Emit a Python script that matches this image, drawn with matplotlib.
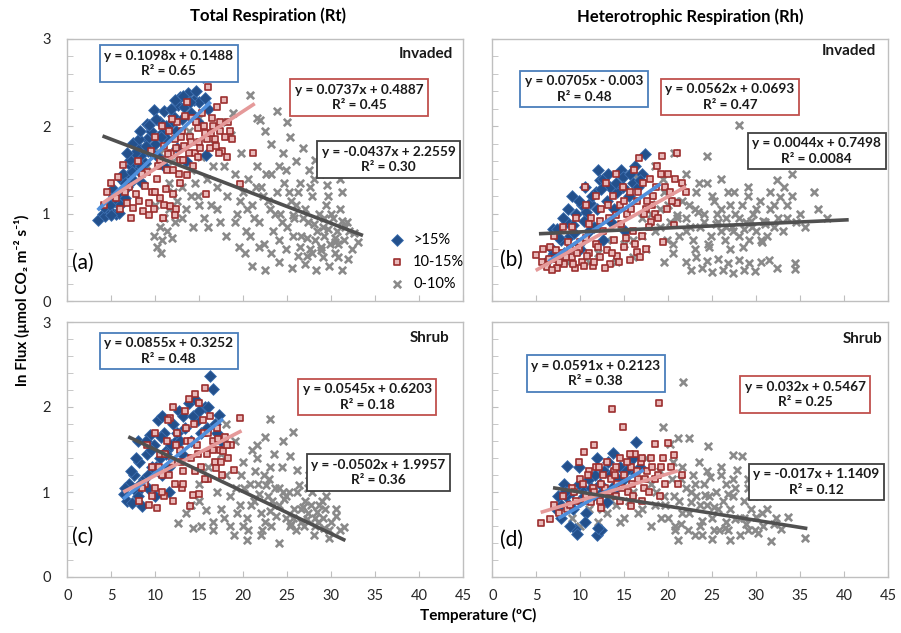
import matplotlib
matplotlib.use("Agg")
import matplotlib.pyplot as plt
from matplotlib.ticker import MultipleLocator

plt.rcParams['font.family'] = ['Lato', 'DejaVu Sans']

# ---- data (temperature degC, ln flux) ----
# (a) Total respiration, invaded
a_hi_x = [3.5, 4.0, 4.3, 4.6, 5.0, 5.5, 5.9, 4.8, 5.3, 5.6, 6.0, 6.2, 6.5, 6.8, 7.0, 7.2, 7.5, 7.8, 8.0, 8.2,
          8.5, 8.8, 9.0, 9.2, 9.5, 9.8, 10.0, 10.3, 10.5, 10.8, 11.0, 11.3, 11.6, 12.0, 12.3, 12.6, 13.0, 13.3,
          13.7, 14.0, 14.4, 14.8, 15.0, 15.4, 15.6, 15.8, 16.0, 13.5, 12.5, 11.0, 8.5, 6.0, 7.5, 9.0, 12.8,
          4.2, 4.9, 5.2, 5.7, 6.3, 6.6, 7.1, 7.4, 7.7, 8.1, 8.4, 8.9, 9.3, 9.6, 10.1, 10.6, 11.2, 11.8, 12.2,
          13.1, 13.9, 14.6, 5.0, 6.8, 8.3]
a_hi_y = [0.93, 1.00, 0.97, 1.05, 1.02, 1.00, 1.01, 1.15, 1.20, 1.12, 1.25, 1.38, 1.18, 1.30, 1.45, 1.55, 1.38,
          1.62, 1.50, 1.75, 1.68, 1.58, 1.85, 1.72, 1.95, 2.19, 1.80, 1.65, 2.05, 1.92, 2.17, 1.85, 2.02, 2.12,
          1.95, 2.25, 2.08, 2.22, 2.38, 2.15, 2.30, 2.05, 2.28, 2.56, 2.33, 1.67, 2.20, 1.60, 1.75, 1.55, 1.35,
          1.10, 1.81, 2.03, 2.34,
          1.08, 1.10, 1.28, 1.22, 1.45, 1.35, 1.62, 1.48, 1.70, 1.85, 1.55, 1.78, 2.02, 1.70, 2.08, 1.88, 2.00,
          2.20, 2.30, 2.35, 2.28, 2.40, 0.98, 1.70, 1.95]
a_mid_x = [4.2, 4.5, 5.0, 5.5, 5.8, 6.3, 6.0, 6.8, 7.0, 7.5, 7.8, 8.2, 8.6, 8.8, 9.0, 9.3, 9.6, 9.8, 10.2,
           10.5, 10.9, 11.2, 11.7, 12.0, 12.4, 12.8, 9.5, 10.0, 10.5, 11.0, 11.5, 11.8, 12.2, 12.5, 12.8, 13.0,
           13.3, 13.6, 13.9, 14.2, 14.5, 14.8, 15.0, 15.3, 15.6, 15.8, 16.0, 16.2, 16.5, 16.8, 17.0, 17.3, 17.6,
           18.1, 18.3, 18.7, 13.6, 14.3, 19.6, 21.1, 16.6, 17.8, 11.3, 8.0, 12.7,
           10.3, 10.8, 11.4, 11.9, 12.3, 12.9, 13.4, 13.8, 14.1, 14.6, 15.1, 15.5, 15.9, 16.4, 16.9, 17.4, 17.9,
           18.5, 12.0, 13.2, 14.9, 16.3, 17.2, 11.0, 9.3, 7.2, 6.5, 8.5, 10.0, 12.2]
a_mid_y = [1.10, 1.25, 1.35, 1.18, 1.42, 1.56, 1.05, 1.12, 1.30, 1.06, 1.22, 1.15, 1.03, 1.32, 1.48, 1.12,
           1.25, 1.05, 1.40, 1.18, 0.95, 1.28, 1.09, 1.22, 1.05, 1.35, 1.72, 1.88, 1.62, 1.78, 1.95, 1.70, 1.85,
           2.05, 1.62, 1.95, 1.78, 2.28, 1.88, 2.10, 1.70, 1.98, 1.82, 2.15, 1.92, 1.23, 2.45, 1.75, 2.00, 1.85,
           2.22, 1.95, 1.72, 1.65, 2.05, 1.85, 1.44, 1.55, 1.34, 1.69, 2.55, 2.30, 1.50, 1.60, 1.45,
           1.55, 2.00, 1.68, 2.08, 1.75, 1.88, 2.12, 1.70, 1.82, 2.05, 1.75, 2.00, 1.85, 2.10, 1.78, 2.05, 1.88,
           1.95, 1.50, 1.62, 1.65, 1.92, 1.70, 1.10, 0.98, 0.95, 1.25, 1.45, 1.25, 0.98]
a_lo_x = [9.8, 10.2, 10.5, 10.8, 11.0, 11.3, 11.6, 10.0, 11.9, 12.2, 12.5, 10.6,
          13.0, 13.5, 14.0, 14.3, 14.8, 15.2, 15.5, 15.9, 16.3, 16.7, 17.0, 17.4, 17.8, 18.2, 18.6, 19.0, 19.3,
          19.7, 20.0, 20.3, 13.6, 17.5, 18.8,
          20.8, 21.5, 21.9, 22.5, 23.8, 23.2, 24.5, 25.3, 25.0, 26.0, 26.8, 27.5, 28.2, 28.7, 29.5, 30.2, 31.0, 24.0,
          20.5, 21.0, 21.4, 21.8, 22.2, 22.6, 23.0, 23.4, 23.8, 24.2, 24.6, 25.0, 25.4, 25.8, 26.2, 26.6, 27.0,
          27.4, 27.8, 28.2, 28.6, 29.0, 29.4, 29.8, 30.2, 30.6, 31.0, 31.4, 31.8, 32.3, 32.6, 33.0,
          25.6, 26.4, 27.2, 28.0, 28.8, 29.6, 30.4, 31.2, 27.8, 29.2, 30.8,
          20.2, 21.0, 21.8, 22.5, 23.2, 24.0, 24.8, 25.5, 26.2, 27.0, 27.6, 28.3, 29.0, 29.7, 30.4, 31.2, 31.9,
          9.0, 10.5, 12.0, 13.8, 15.0, 16.5, 14.5, 11.5,
          19.0, 19.6, 20.4, 21.2, 22.0, 22.8, 23.6, 24.4, 25.2, 26.0, 26.8, 27.6, 28.4, 29.2, 30.0, 30.8, 31.6,
          20.8, 22.4, 24.0, 25.6, 27.2, 28.8, 30.4, 32.0, 21.6, 23.2, 24.8, 26.4, 28.0, 29.6, 31.2, 16.0, 17.0,
          18.0, 15.0, 14.0, 13.0, 12.0, 19.5]
a_lo_y = [0.75, 0.62, 0.85, 0.70, 0.95, 0.80, 1.05, 1.10, 0.72, 0.90, 1.15, 0.55,
          1.30, 1.05, 1.50, 0.85, 1.20, 1.65, 0.95, 1.40, 1.10, 1.80, 1.30, 0.90, 1.55, 1.20, 1.90, 1.45, 1.00,
          1.70, 1.25, 0.80, 2.57, 2.05, 2.15,
          2.36, 2.10, 2.07, 1.95, 2.18, 1.80, 1.70, 1.88, 2.05, 1.60, 1.75, 1.50, 1.62, 1.45, 1.33, 1.52, 1.40, 1.55,
          1.40, 1.10, 1.30, 0.90, 1.20, 1.45, 1.05, 0.80, 1.25, 1.00, 1.35, 0.85, 1.15, 0.95, 1.25, 0.75, 1.05,
          0.90, 1.20, 0.70, 1.00, 0.85, 1.10, 0.65, 0.95, 0.80, 1.05, 0.70, 0.90, 0.60, 0.78, 0.68,
          0.98, 0.62, 0.72, 0.88, 0.58, 0.82, 0.68, 0.92, 0.55, 0.75, 0.50,
          0.55, 0.40, 0.62, 0.35, 0.55, 0.45, 0.60, 0.38, 0.52, 0.42, 0.60, 0.35, 0.50, 0.40, 0.55, 0.35, 0.48,
          1.55, 1.70, 1.60, 1.95, 2.10, 1.55, 1.35, 1.35,
          0.90, 1.15, 1.05, 0.95, 1.30, 1.15, 1.00, 0.90, 1.25, 1.10, 0.95, 1.30, 0.80, 0.95, 1.00, 0.65, 0.85,
          0.75, 0.65, 0.70, 0.75, 0.52, 0.62, 0.72, 0.80, 1.55, 1.45, 1.50, 1.35, 1.40, 1.20, 1.25, 0.85, 1.05,
          0.75, 1.10, 1.20, 0.95, 1.25, 0.62]

# (b) Heterotrophic respiration, invaded
b_hi_x = [6.4, 6.8, 6.9, 7.3, 7.8, 8.2, 8.5, 8.8, 9.2, 9.5, 9.8, 10.2, 10.7, 11.1, 11.5, 11.8, 12.2, 12.6,
          12.6, 13.0, 13.4, 13.8, 14.2, 14.6, 14.9, 15.1, 15.5, 16.0, 16.5, 17.0, 17.4, 11.0, 9.0, 13.5, 10.5,
          7.0, 7.6, 8.0, 8.6, 9.3, 9.9, 10.4, 11.3, 11.9, 12.4, 13.2, 14.0, 14.8, 15.6, 16.2, 16.8, 12.0, 10.0]
b_hi_y = [0.48, 0.60, 0.83, 0.82, 0.70, 0.55, 0.90, 0.74, 0.87, 1.00, 0.65, 1.10, 1.02, 1.12, 0.85, 1.25,
          1.38, 1.40, 0.70, 1.15, 1.31, 1.05, 1.25, 1.50, 1.42, 0.80, 1.20, 1.35, 1.30, 1.45, 1.68, 0.80, 1.20,
          0.90, 1.30,
          0.55, 0.72, 0.95, 1.05, 0.78, 1.15, 0.92, 1.20, 1.05, 1.28, 1.45, 1.35, 1.30, 1.45, 1.55, 1.38, 1.50, 0.60]
b_mid_x = [5.0, 5.6, 6.2, 6.6, 7.0, 7.4, 7.8, 8.2, 8.6, 9.0, 9.4, 9.8, 10.2, 10.6, 11.0, 11.4, 11.8, 12.2,
           12.6, 13.0, 13.4, 13.8, 14.2, 14.6, 15.0, 15.6, 16.4, 17.0, 17.5, 18.0, 19.4, 20.6, 21.0, 10.7, 10.5,
           11.2, 11.8, 12.4, 12.9, 13.3, 13.7, 14.1, 14.5, 14.9, 15.3, 15.7, 16.1, 16.4, 16.7, 17.1, 17.5, 17.9,
           18.3, 18.7, 19.3, 19.6, 20.0, 20.4, 21.0, 21.5, 22.0, 8.0, 9.5, 7.0, 16.0, 18.5,
           5.8, 6.4, 7.2, 7.6, 8.4, 8.8, 9.2, 9.6, 10.0, 10.4, 10.8, 11.6, 12.0, 12.8, 13.6, 14.4, 15.2, 16.2,
           16.8, 17.2, 17.8, 18.2, 18.8, 19.8, 20.2, 12.2, 13.2, 14.0, 15.0, 15.8, 16.6, 17.6, 18.6, 19.2, 20.8,
           6.8, 9.0, 11.0]
b_mid_y = [0.53, 0.45, 0.39, 0.62, 0.48, 0.38, 0.55, 0.42, 0.68, 0.50, 0.38, 0.60, 0.45, 0.72, 0.55, 0.40,
           0.65, 0.50, 0.80, 0.58, 0.42, 0.70, 0.52, 0.88, 0.62, 0.47, 0.56, 0.75, 0.60, 0.90, 0.68, 0.87, 1.12,
           1.10, 1.31, 0.95, 1.20, 1.05, 1.35, 0.95, 1.20, 1.45, 1.10, 1.30, 1.00, 1.25, 1.50, 1.15, 1.64, 1.35,
           1.05, 1.40, 1.20, 1.55, 1.66, 1.30, 1.45, 1.15, 1.70, 1.35, 1.25, 0.85, 0.95, 0.75, 0.80, 1.00,
           0.60, 0.48, 0.58, 0.45, 0.50, 0.60, 0.42, 0.55, 0.68, 0.40, 0.52, 0.45, 0.62, 0.38, 0.55, 0.45, 0.72,
           0.65, 0.50, 1.00, 0.85, 1.10, 0.95, 1.05, 1.25, 0.92, 1.10, 0.98, 1.15, 1.05, 1.25, 1.15, 1.30, 1.45,
           1.40, 0.35, 0.85, 0.88]
b_lo_x = [12.0, 13.0, 14.0, 15.0, 16.0, 17.0, 17.5, 18.0, 18.5, 19.0, 19.4, 19.8, 20.2, 20.6, 20.8, 21.2,
          21.6, 22.0, 22.4, 22.8, 23.2, 23.6, 24.0, 24.4, 24.4, 24.8, 25.2, 25.6, 26.0, 26.4, 26.8, 27.2, 27.6,
          28.0, 28.0, 28.4, 28.8, 29.2, 29.6, 30.0, 30.4, 30.8, 31.2, 31.6, 32.0, 32.3, 32.7, 33.1, 33.5, 34.0,
          34.5, 35.0, 36.5, 22.0, 26.0, 29.0, 23.0, 27.0,
          21.0, 23.4, 25.4, 27.4, 29.4, 31.0, 24.6, 26.6, 28.6, 30.6,
          22.0, 22.6, 23.2, 23.8, 24.4, 25.0, 25.6, 26.2, 26.8, 27.4, 28.0, 28.6, 29.2, 29.8, 30.5, 31.4, 32.3,
          34.4, 34.4, 19.5, 20.5, 10.0, 11.0, 8.5, 16.5, 18.5, 15.5,
          18.0, 19.0, 20.0, 21.0, 22.0, 23.0, 24.0, 25.0, 26.0, 27.0, 28.0, 29.0, 30.0, 31.0, 32.0, 33.0, 34.0,
          19.5, 21.5, 23.5, 25.5, 27.5, 29.5, 31.5, 33.5, 20.5, 22.5, 24.5, 26.5, 28.5, 30.5, 32.5, 35.5, 37.0,
          38.0, 17.0, 16.0, 14.5]
b_lo_y = [0.55, 0.70, 0.45, 0.65, 0.50, 0.95, 0.60, 1.20, 0.80, 1.05, 1.40, 0.70, 0.90, 1.70, 1.15, 0.75,
          1.30, 0.95, 1.10, 0.70, 1.25, 0.85, 1.00, 1.66, 1.35, 0.75, 1.15, 0.90, 1.05, 0.70, 1.25, 0.85, 1.00,
          2.01, 0.75, 1.10, 0.90, 0.70, 1.00, 0.80, 1.15, 0.92, 0.75, 1.05, 0.85, 1.38, 1.19, 1.31, 0.95, 1.45,
          0.90, 1.00, 1.25, 1.45, 1.40, 1.30, 0.60, 0.60,
          0.98, 1.02, 0.88, 0.80, 0.92, 0.88, 0.62, 0.95, 0.82, 0.68,
          0.45, 0.35, 0.50, 0.38, 0.46, 0.33, 0.48, 0.36, 0.44, 0.32, 0.47, 0.36, 0.43, 0.34, 0.45, 0.47, 0.38,
          0.43, 0.37, 0.45, 0.55, 0.65, 0.45, 0.45, 1.45, 1.55, 1.25,
          1.00, 0.85, 1.10, 0.95, 0.80, 1.05, 0.90, 1.20, 0.80, 1.10, 0.95, 1.20, 1.05, 0.90, 1.10, 0.80, 1.20,
          1.25, 1.15, 1.35, 1.00, 1.25, 0.85, 1.25, 1.10, 0.65, 0.85, 0.65, 0.85, 0.62, 0.70, 0.95, 0.85, 1.05,
          0.95, 0.75, 0.70, 0.85]

# (c) Total respiration, shrub
c_hi_x = [6.4, 6.8, 7.0, 7.3, 7.6, 7.9, 8.2, 8.5, 8.7, 9.0, 9.2, 9.4, 9.6, 9.9, 10.0, 10.3, 10.5, 10.8, 11.0,
          11.3, 11.6, 12.0, 12.3, 12.7, 13.0, 13.4, 13.8, 14.1, 14.5, 14.8, 15.2, 15.6, 16.0, 16.2, 16.6, 16.8,
          17.2, 17.5, 8.0, 11.5,
          6.6, 7.2, 7.8, 8.3, 8.9, 9.5, 10.1, 10.7, 11.2, 11.8, 12.5, 13.2, 14.3, 15.0, 15.9, 17.0, 9.2, 8.0,
          10.8, 12.8]
c_hi_y = [0.98, 0.90, 1.10, 0.87, 1.20, 1.00, 1.35, 0.83, 1.15, 1.45, 1.05, 1.67, 1.30, 1.55, 0.95, 1.85,
          1.40, 1.20, 1.70, 1.50, 1.30, 1.80, 1.60, 1.95, 1.45, 1.75, 2.05, 1.60, 2.10, 1.85, 1.70, 2.00, 2.00,
          2.37, 2.21, 1.80, 1.91, 1.60, 1.60, 1.00,
          1.05, 1.25, 1.40, 1.10, 1.60, 1.50, 1.30, 1.65, 1.45, 1.55, 1.70, 1.90, 1.90, 1.95, 1.75, 1.70, 1.20,
          0.95, 1.90, 1.60]
c_mid_x = [8.2, 8.8, 9.3, 9.6, 10.0, 10.2, 10.5, 10.8, 11.0, 11.3, 11.7, 11.9, 12.2, 12.5, 12.8, 13.1, 13.4,
           13.6, 13.9, 14.0, 14.3, 14.4, 14.7, 15.0, 15.2, 15.5, 15.7, 15.9, 16.2, 16.5, 16.8, 17.0, 17.3, 17.6,
           17.9, 18.3, 18.6, 18.9, 19.6, 12.0, 14.5, 16.0, 10.0, 9.0, 13.0,
           10.4, 11.1, 11.6, 12.3, 12.9, 13.5, 14.1, 14.8, 15.4, 16.0, 16.6, 17.1, 17.7, 18.1, 12.0, 13.2, 14.5,
           15.6, 16.9, 11.4, 10.8, 13.8, 15.0, 17.5, 9.6, 8.5]
c_mid_y = [0.90, 1.10, 0.85, 1.30, 1.05, 0.81, 1.45, 1.20, 0.95, 1.60, 1.87, 1.35, 1.10, 1.70, 1.50, 1.25,
           1.95, 1.60, 0.83, 1.40, 0.96, 1.80, 1.55, 2.05, 1.30, 1.70, 2.22, 1.45, 1.90, 1.60, 1.35, 1.75, 1.50,
           1.20, 1.65, 1.40, 1.55, 1.26, 1.87, 2.00, 2.15, 1.15, 1.70, 1.55, 1.05,
           1.30, 1.45, 1.20, 1.55, 1.35, 1.75, 1.60, 1.45, 1.85, 1.70, 1.50, 1.62, 1.48, 1.55, 0.90, 1.10, 1.25,
           1.15, 1.28, 1.85, 1.00, 2.10, 0.98, 1.35, 0.95, 1.05]
c_lo_x = [12.6, 13.5, 14.3, 15.0, 15.8, 16.5, 17.0, 17.5, 18.0, 18.5, 18.9, 19.2, 19.6, 20.0, 20.4, 20.4,
          20.8, 21.2, 21.6, 22.0, 22.4, 22.8, 23.0, 23.2, 23.6, 24.0, 24.0, 24.4, 24.8, 25.2, 25.3, 25.7, 25.8,
          26.1, 26.3, 26.6, 27.0, 27.4, 27.8, 28.2, 28.6, 29.0, 29.4, 29.7, 30.0, 30.5, 31.0, 31.4, 21.0, 22.5,
          19.0, 17.5, 16.0, 23.5, 27.5, 20.0, 22.0, 26.0, 28.0, 18.0, 15.0, 24.5,
          21.8, 23.0, 24.6, 25.4, 26.8, 28.4, 29.2, 22.6, 27.2,
          18.5, 19.3, 20.1, 20.9, 21.7, 22.5, 23.3, 24.1, 24.9, 25.7, 26.5, 27.3, 28.1, 28.9, 29.7, 30.5, 19.7,
          21.3, 22.9, 24.5, 26.1, 27.7, 29.3, 20.5, 22.1, 23.7, 25.3, 26.9, 28.5, 16.5, 17.8, 15.2, 14.0, 21.5,
          23.0]
c_lo_y = [0.63, 0.75, 0.58, 0.90, 0.79, 0.65, 1.00, 0.80, 1.20, 0.60, 0.49, 1.05, 0.85, 1.35, 0.44, 0.70,
          1.10, 0.90, 1.55, 0.75, 1.20, 0.95, 1.86, 0.60, 1.05, 0.40, 0.85, 1.30, 0.70, 1.00, 1.42, 1.71, 0.80,
          1.26, 1.08, 0.65, 0.90, 0.75, 1.00, 0.60, 0.85, 0.70, 0.95, 0.46, 0.65, 0.80, 0.55, 0.59, 1.50, 1.65,
          1.60, 1.45, 1.30, 1.45, 1.20, 0.60, 0.50, 0.55, 0.50, 1.80, 1.10, 1.60,
          0.98, 0.78, 0.92, 0.62, 0.82, 0.76, 0.58, 1.08, 0.68,
          0.95, 0.75, 1.05, 0.85, 1.10, 0.65, 0.90, 1.05, 0.95, 0.70, 0.80, 1.05, 0.70, 0.90, 0.55, 0.72, 1.20,
          1.25, 1.15, 1.00, 1.00, 0.85, 0.80, 0.55, 0.55, 0.72, 0.60, 0.60, 0.65, 0.55, 0.70, 0.60, 0.85, 1.40,
          1.30]

# (d) Heterotrophic respiration, shrub
d_hi_x = [7.2, 7.5, 7.8, 8.1, 8.45, 8.7, 9.0, 9.4, 9.6, 9.8, 10.0, 10.3, 10.6, 11.0, 11.4, 11.9, 11.9, 12.2,
          12.4, 12.7, 13.0, 13.4, 13.75, 14.0, 14.5, 15.0, 15.5, 16.0, 16.3, 16.8, 10.5, 8.4,
          7.8, 8.3, 9.2, 9.9, 10.4, 11.2, 11.7, 12.5, 13.2, 14.3, 15.2, 16.0, 8.8, 12.0, 13.6]
d_hi_y = [0.80, 0.95, 0.70, 1.10, 1.31, 0.85, 1.00, 0.57, 0.51, 1.30, 0.90, 1.05, 0.75, 1.15, 0.95, 1.40,
          0.49, 1.10, 0.55, 1.25, 0.88, 1.20, 1.46, 1.05, 1.30, 1.15, 1.35, 1.25, 1.59, 1.30, 0.65, 0.95,
          0.85, 1.00, 0.80, 1.10, 0.95, 1.05, 1.20, 1.00, 1.35, 1.15, 1.25, 1.40, 0.60, 0.58, 1.05]
d_mid_x = [5.5, 6.5, 7.0, 7.6, 8.0, 8.5, 9.0, 9.5, 10.0, 10.45, 10.7, 11.0, 11.4, 11.8, 12.2, 12.4, 12.6,
           13.0, 13.3, 13.6, 13.8, 14.2, 14.5, 14.8, 15.0, 15.4, 15.8, 15.8, 16.2, 16.5, 16.9, 17.2, 17.6, 18.0,
           18.5, 18.5, 18.9, 19.2, 19.6, 20.0, 20.6, 21.1, 21.5, 14.0, 17.0, 11.5, 19.0, 9.8,
           9.3, 10.3, 10.9, 11.6, 12.1, 12.8, 13.5, 14.1, 14.7, 15.3, 15.9, 16.4, 17.0, 17.4, 18.1, 18.8, 19.4,
           12.3, 13.9, 15.6, 17.8, 10.6, 8.8, 20.3, 16.0, 14.5, 11.2]
d_mid_y = [0.63, 0.68, 0.85, 0.75, 0.95, 0.80, 1.05, 0.90, 1.15, 1.47, 0.95, 1.25, 1.05, 1.30, 0.90, 0.81,
           1.20, 1.35, 1.00, 1.98, 1.25, 1.10, 1.40, 1.77, 1.20, 1.00, 0.83, 1.30, 1.45, 1.15, 1.35, 1.05, 1.25,
           1.40, 1.56, 1.15, 2.05, 1.30, 1.10, 1.58, 1.43, 1.09, 1.20, 0.95, 0.90, 1.55, 0.95, 1.35,
           1.00, 1.10, 1.20, 1.00, 1.30, 1.05, 1.15, 1.30, 1.05, 1.35, 1.10, 1.25, 1.40, 1.15, 1.30, 1.20, 1.40,
           1.10, 1.20, 1.45, 1.00, 0.90, 0.85, 1.30, 0.95, 0.90, 0.88]
d_lo_x = [9.0, 10.0, 11.0, 12.0, 13.0, 14.0, 15.0, 16.0, 17.0, 17.5, 18.0, 18.5, 19.0, 19.4, 19.5, 20.0,
          20.2, 20.4, 20.8, 21.1, 21.1, 21.2, 21.6, 21.7, 22.0, 22.3, 22.4, 22.8, 23.2, 23.6, 24.0, 24.4, 24.5,
          24.7, 25.0, 25.4, 25.8, 26.2, 26.6, 27.0, 27.0, 27.4, 27.4, 27.8, 28.2, 28.4, 28.6, 29.0, 29.4, 30.0,
          30.4, 30.8, 31.2, 31.7, 32.2, 32.8, 33.6, 35.5, 23.0, 25.0, 26.0, 23.5, 29.0, 20.5, 18.0, 31.0,
          21.4, 22.6, 23.8, 25.2, 26.4, 27.6, 28.8, 30.2, 24.2, 26.8,
          18.6, 19.6, 20.6, 21.6, 22.6, 23.6, 24.6, 25.6, 26.6, 27.6, 28.6, 29.6, 19.2, 20.8, 22.2, 23.8, 25.2,
          26.8, 28.2, 29.8, 21.4, 23.0, 24.4, 26.0, 27.4, 29.0, 30.6, 32.0, 16.5, 15.5, 14.5, 13.5, 12.5]
d_lo_y = [0.70, 0.60, 0.80, 0.65, 0.75, 0.85, 0.70, 1.00, 0.80, 1.40, 1.10, 0.85, 1.25, 1.77, 0.95, 0.70,
          1.57, 1.15, 0.55, 1.63, 0.44, 0.90, 1.30, 2.30, 1.05, 1.63, 0.75, 1.20, 0.95, 0.60, 1.10, 0.85, 1.54,
          1.18, 0.70, 1.00, 0.55, 0.90, 1.10, 0.44, 0.80, 1.44, 0.95, 1.26, 0.70, 1.42, 0.90, 0.55, 0.80, 0.71,
          0.95, 0.60, 0.80, 0.42, 0.70, 0.57, 0.71, 0.46, 0.50, 0.45, 1.30, 1.35, 1.15, 1.35, 0.60, 1.00,
          0.62, 0.88, 0.66, 0.82, 0.58, 0.68, 0.62, 0.52, 0.96, 0.98,
          1.00, 0.85, 0.95, 0.75, 1.00, 0.85, 0.95, 0.80, 0.65, 1.05, 0.70, 0.95, 0.70, 0.60, 0.55, 0.50, 0.55,
          0.55, 0.50, 0.55, 1.15, 1.10, 1.25, 1.20, 1.15, 1.05, 0.75, 0.62, 0.75, 0.90, 0.65, 0.90, 0.80]

# fitted lines as drawn: (x_start, y_start, x_end, y_end)
a_lines = [(3.45, 1.04, 16.3, 2.28), (4.0, 1.12, 21.3, 2.26), (4.0, 1.89, 33.6, 0.75)]
b_lines = [(6.36, 0.45, 19.1, 1.34), (4.93, 0.35, 22.0, 1.31), (5.3, 0.77, 40.5, 0.93)]
c_lines = [(6.36, 0.92, 17.7, 1.86), (6.36, 1.00, 19.8, 1.72), (6.93, 1.65, 31.6, 0.43)]
d_lines = [(7.5, 0.69, 17.2, 1.26), (5.5, 0.76, 21.1, 1.25), (6.9, 1.05, 35.8, 0.57)]

a_eqs = ['y = 0.1098x + 0.1488\nR² = 0.65', 'y = 0.0737x + 0.4887\nR² = 0.45', 'y = -0.0437x + 2.2559\nR² = 0.30']
b_eqs = ['y = 0.0705x - 0.003\nR² = 0.48', 'y = 0.0562x + 0.0693\nR² = 0.47', 'y = 0.0044x + 0.7498\nR² = 0.0084']
c_eqs = ['y = 0.0855x + 0.3252\nR² = 0.48', 'y = 0.0545x + 0.6203\nR² = 0.18', 'y = -0.0502x + 1.9957\nR² = 0.36']
d_eqs = ['y = 0.0591x + 0.2123\nR² = 0.38', 'y = 0.032x + 0.5467\nR² = 0.25', 'y = -0.017x + 1.1409\nR² = 0.12']

classes = ['>15%', '10-15%', '0-10%']
sites = ['Invaded', 'Invaded', 'Shrub', 'Shrub']
letters = ['(a)', '(b)', '(c)', '(d)']

# ---- styling ----
line_cols = ['#4f8fdc', '#e59a9a', '#505050']
box_cols = ['#4a7ebb', '#c0504d', '#404040']
frame_col = '#bfbfbf'

fig = plt.figure(figsize=(9.01, 6.33), dpi=100)
W, H = 901, 633
def add_ax(x0, y_top, w, h):
    return fig.add_axes([x0 / W, 1 - (y_top + h) / H, w / W, h / H])

axes = [add_ax(67.3, 39, 396, 262), add_ax(492.3, 39, 396, 262),
        add_ax(67.3, 322, 396, 255), add_ax(492.3, 322, 396, 255)]

panels = [
    (a_hi_x, a_hi_y, a_mid_x, a_mid_y, a_lo_x, a_lo_y, a_lines, a_eqs),
    (b_hi_x, b_hi_y, b_mid_x, b_mid_y, b_lo_x, b_lo_y, b_lines, b_eqs),
    (c_hi_x, c_hi_y, c_mid_x, c_mid_y, c_lo_x, c_lo_y, c_lines, c_eqs),
    (d_hi_x, d_hi_y, d_mid_x, d_mid_y, d_lo_x, d_lo_y, d_lines, d_eqs),
]

# box centres in axes fraction: blue, red, grey
box_pos = [
    [(0.256, 0.906), (0.737, 0.777), (0.812, 0.540)],
    [(0.232, 0.809), (0.600, 0.779), (0.819, 0.573)],
    [(0.256, 0.886), (0.757, 0.706), (0.786, 0.410)],
    [(0.261, 0.798), (0.790, 0.716), (0.819, 0.373)],
]
site_pos = [(0.974, 0.943), (0.969, 0.954), (0.966, 0.937), (0.986, 0.933)]
letter_pos = [(0.012, 0.145), (0.02, 0.156), (0.012, 0.157), (0.02, 0.145)]

for i, ax in enumerate(axes):
    hx, hy, mx, my, lx, ly, lines, eqs = panels[i]
    g = ax.scatter(lx, ly, marker='x', s=28, color='#8a8a8a', linewidths=1.9, zorder=2)
    b = ax.scatter(hx, hy, marker='D', s=36, facecolor='#23508c', edgecolor='#3d6fb0',
                   linewidths=0.6, zorder=3)
    r = ax.scatter(mx, my, marker='s', s=22, facecolor='#e9b9b9', edgecolor='#9c2e2e',
                   linewidths=1.2, zorder=4)
    for (x0, y0, x1, y1), c in zip(lines, line_cols):
        ax.plot([x0, x1], [y0, y1], color=c, lw=2.6, solid_capstyle='butt', zorder=5)
    for txt, (px, py), ec in zip(eqs, box_pos[i], box_cols):
        ax.text(px, py, txt, transform=ax.transAxes, ha='center', va='center',
                fontsize=9.8, fontweight='bold', color='#1a1a1a', linespacing=1.35, zorder=7,
                bbox=dict(boxstyle='square,pad=0.33', fc='white', ec=ec, lw=1.3))
    ax.text(site_pos[i][0], site_pos[i][1], sites[i], transform=ax.transAxes, ha='right',
            va='center', fontsize=11, fontweight='bold', color='#1a1a1a')
    ax.text(letter_pos[i][0], letter_pos[i][1], letters[i], transform=ax.transAxes, ha='left',
            va='center', fontsize=15, color='black', zorder=8)

    ax.set_xlim(0, 45)
    ax.set_ylim(0, 3)
    ax.xaxis.set_major_locator(MultipleLocator(5))
    ax.yaxis.set_major_locator(MultipleLocator(1))
    ax.yaxis.set_minor_locator(MultipleLocator(0.2))
    ax.tick_params(axis='both', which='both', direction='in', color=frame_col, labelsize=10.5,
                   labelcolor='#262626')
    ax.tick_params(axis='y', which='major', length=4, pad=12)
    ax.tick_params(axis='y', which='minor', length=4)
    ax.tick_params(axis='x', which='major', length=4, pad=9)
    for s in ax.spines.values():
        s.set_color(frame_col)
        s.set_linewidth(1.0)
    if i < 2:
        ax.tick_params(axis='x', labelbottom=False)
    if i % 2 == 1:
        ax.tick_params(axis='y', labelleft=False)
    if i == 0:
        ax.legend([b, r, g], classes, loc='lower left', bbox_to_anchor=(0.77, 0.0),
                  frameon=False, fontsize=10.5, handletextpad=0.1, labelspacing=0.55,
                  borderaxespad=0.3, scatterpoints=1)

fig.text(268 / W, 1 - 16 / H, 'Total Respiration (Rt)', ha='center', va='center',
         fontsize=12, fontweight='bold')
fig.text(690 / W, 1 - 17 / H, 'Heterotrophic Respiration (Rh)', ha='center', va='center',
         fontsize=12, fontweight='bold')
fig.text(22 / W, 1 - 300 / H, 'ln Flux (µmol CO₂ m⁻² s⁻¹)', rotation=90, ha='center',
         va='center', fontsize=11, fontweight='bold')
fig.text(478 / W, 1 - 615 / H, 'Temperature (ºC)', ha='center', va='center',
         fontsize=11, fontweight='bold')

fig.savefig('out.png', dpi=100, facecolor='white')
